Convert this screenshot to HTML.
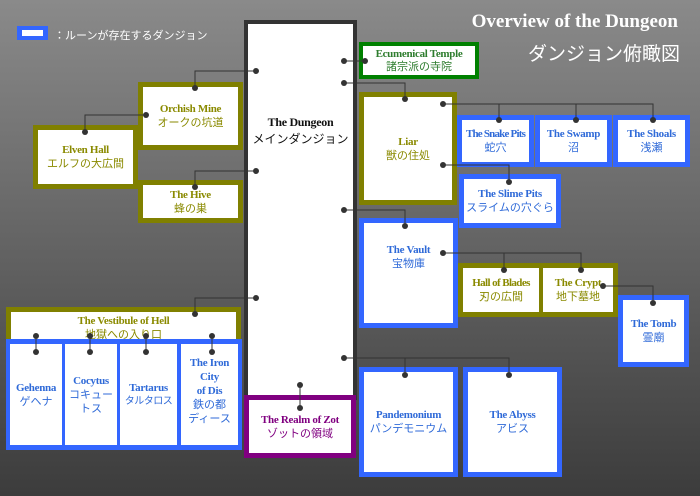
<!DOCTYPE html>
<html><head><meta charset="utf-8"><style>
body{margin:0;width:700px;height:496px;overflow:hidden;background:linear-gradient(#8a8a8a,#3c3c3c);font-family:"Liberation Serif","Noto Sans CJK JP",serif;position:relative}
.b{position:absolute;box-sizing:border-box;background:#fff;display:flex;flex-direction:column;align-items:center;justify-content:center;text-align:center;font-size:11px;line-height:14px;font-weight:bold;white-space:nowrap;letter-spacing:-0.3px}
.b span{font-family:"Liberation Sans","Noto Sans CJK JP",sans-serif;font-weight:normal;font-size:11px;letter-spacing:0}
.o{border:5px solid #808000;color:#8a8a00}
.u{border:5px solid #3366ff;color:#2f6ad8}
svg{position:absolute;left:0;top:0}
</style></head><body>
<div style="position:absolute;left:17px;top:26px;width:31px;height:14px;background:#3366ff"><div style="margin:4px 5px;height:6px;background:#fff"></div></div>
<div style="position:absolute;left:54px;top:27px;font:11px 'Liberation Sans','Noto Sans CJK JP',sans-serif;color:#fff">：ルーンが存在するダンジョン</div>
<div style="position:absolute;right:22px;top:11px;font:bold 19px 'Liberation Serif',serif;color:#fff">Overview of the Dungeon</div>
<div style="position:absolute;right:20px;top:39px;font:19px 'Liberation Sans','Noto Sans CJK JP',sans-serif;color:#fff">ダンジョン俯瞰図</div>

<div class="b" style="left:244px;top:20px;width:113px;height:380px;border:4px solid #333;justify-content:flex-start;padding-top:90px;color:#111;font-size:12px;line-height:17px">The Dungeon<span style="font-size:12px">メインダンジョン</span></div>
<div class="b" style="left:244px;top:395px;width:112px;height:63px;border:5px solid #800080;color:#800080">The Realm of Zot<span>ゾットの領域</span></div>

<div class="b" style="left:359px;top:42px;width:120px;height:37px;border:4px solid #008000;color:#2e7d2e;line-height:13px">Ecumenical Temple<span>諸宗派の寺院</span></div>
<div class="b o" style="left:138px;top:82px;width:105px;height:68px">Orchish Mine<span>オークの坑道</span></div>
<div class="b o" style="left:33px;top:125px;width:105px;height:64px">Elven Hall<span>エルフの大広間</span></div>
<div class="b o" style="left:138px;top:180px;width:105px;height:43px">The Hive<span>蜂の巣</span></div>
<div class="b o" style="left:359px;top:92px;width:98px;height:113px">Liar<span>獣の住処</span></div>
<div class="b u" style="left:457px;top:115px;width:77px;height:52px;letter-spacing:-0.8px">The Snake Pits<span>蛇穴</span></div>
<div class="b u" style="left:535px;top:115px;width:77px;height:52px">The Swamp<span>沼</span></div>
<div class="b u" style="left:613px;top:115px;width:77px;height:52px">The Shoals<span>浅瀬</span></div>
<div class="b u" style="left:459px;top:174px;width:102px;height:54px">The Slime Pits<span>スライムの穴ぐら</span></div>
<div class="b u" style="left:359px;top:218px;width:99px;height:110px;justify-content:flex-start;padding-top:20px">The Vault<span>宝物庫</span></div>
<div class="b o" style="left:458px;top:263px;width:86px;height:54px;letter-spacing:-0.6px">Hall of Blades<span>刃の広間</span></div>
<div class="b o" style="left:539px;top:263px;width:79px;height:54px;border-left-width:4px">The Crypt<span>地下墓地</span></div>
<div class="b u" style="left:618px;top:295px;width:71px;height:72px">The Tomb<span>霊廟</span></div>
<div class="b u" style="left:359px;top:367px;width:99px;height:110px">Pandemonium<span>パンデモニウム</span></div>
<div class="b u" style="left:463px;top:367px;width:99px;height:110px">The Abyss<span>アビス</span></div>

<div class="b o" style="left:6px;top:307px;width:235px;height:38px;border-bottom:0;justify-content:flex-start;padding-top:2px;line-height:14px">The Vestibule of Hell<span>地獄への入り口</span></div>
<div style="position:absolute;left:6px;top:339px;width:236px;height:111px;background:#3366ff"></div>
<div class="b" style="left:10px;top:344px;width:52px;height:101px;color:#2f6ad8">Gehenna<span>ゲヘナ</span></div>
<div class="b" style="left:65px;top:344px;width:52px;height:101px;color:#2f6ad8">Cocytus<span>コキュー<br>トス</span></div>
<div class="b" style="left:120px;top:344px;width:57px;height:101px;color:#2f6ad8">Tartarus<span style="font-size:10px;letter-spacing:-0.5px">タルタロス</span></div>
<div class="b" style="left:181px;top:344px;width:57px;height:101px;color:#2f6ad8;justify-content:flex-start;padding-top:12px">The Iron<br>City<br>of Dis<span>鉄の都<br>ディース</span></div>

<svg width="700" height="496" fill="none" stroke="#333" stroke-width="1">
<path d="M256 71H195V88M146 115H85V132M256 171H195V187M344 61H365M344 83H405V99M344 210H405V226M443 104H653V120M499 104V120M576 104V120M443 165H509V182M443 253H581V270M504 253V270M603 286H653V303M256 298H195V314M344 358H509V375M405 358V375M300 385V408M36 336V352M90 336V352M146 336V352M212 336V352"/>
<g fill="#333" stroke="none">
<circle cx="256" cy="71" r="3"/><circle cx="195" cy="88" r="3"/><circle cx="146" cy="115" r="3"/><circle cx="85" cy="132" r="3"/>
<circle cx="256" cy="171" r="3"/><circle cx="195" cy="187" r="3"/><circle cx="344" cy="61" r="3"/><circle cx="365" cy="61" r="3"/>
<circle cx="344" cy="83" r="3"/><circle cx="405" cy="99" r="3"/><circle cx="344" cy="210" r="3"/><circle cx="405" cy="226" r="3"/>
<circle cx="443" cy="104" r="3"/><circle cx="499" cy="120" r="3"/><circle cx="576" cy="120" r="3"/><circle cx="653" cy="120" r="3"/>
<circle cx="443" cy="165" r="3"/><circle cx="509" cy="182" r="3"/><circle cx="443" cy="253" r="3"/><circle cx="504" cy="270" r="3"/><circle cx="581" cy="270" r="3"/>
<circle cx="603" cy="286" r="3"/><circle cx="653" cy="303" r="3"/><circle cx="256" cy="298" r="3"/><circle cx="195" cy="314" r="3"/>
<circle cx="344" cy="358" r="3"/><circle cx="405" cy="375" r="3"/><circle cx="509" cy="375" r="3"/><circle cx="300" cy="385" r="3"/><circle cx="300" cy="408" r="3"/>
<circle cx="36" cy="336" r="3"/><circle cx="36" cy="352" r="3"/><circle cx="90" cy="336" r="3"/><circle cx="90" cy="352" r="3"/>
<circle cx="146" cy="336" r="3"/><circle cx="146" cy="352" r="3"/><circle cx="212" cy="336" r="3"/><circle cx="212" cy="352" r="3"/>
</g></svg>
</body></html>
